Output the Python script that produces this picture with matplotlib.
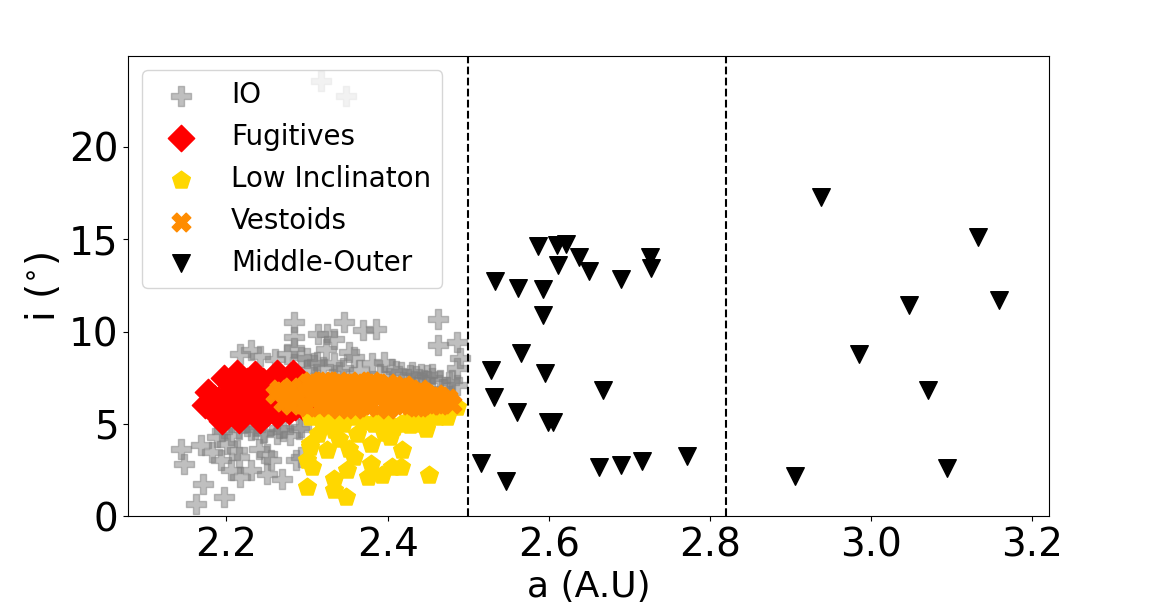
import matplotlib
matplotlib.use('Agg')
import matplotlib.pyplot as plt

# IO family (grey plus markers)
io_a = [2.284, 2.284, 2.314, 2.284, 2.217, 2.230, 2.242, 2.275, 2.292, 2.308,
        2.143, 2.147, 2.168, 2.171, 2.162, 2.197, 2.182, 2.193, 2.205, 2.215,
        2.217, 2.230, 2.240, 2.250, 2.255, 2.250, 2.269, 2.286, 2.213, 2.188,
        2.205, 2.230, 2.246, 2.263, 2.279, 2.290, 2.201, 2.346, 2.370, 2.385,
        2.325, 2.333, 2.323, 2.352, 2.358, 2.381, 2.395, 2.463, 2.462, 2.486,
        2.490, 2.486, 2.416, 2.428, 2.441, 2.449, 2.465, 2.476, 2.486, 2.300,
        2.312, 2.333, 2.292, 2.292, 2.317, 2.348, 2.405, 2.430, 2.455, 2.470,
        2.260, 2.225, 2.300, 2.320, 2.345, 2.340, 2.365, 2.390, 2.410, 2.435,
        2.455, 2.480, 2.445, 2.215, 2.245, 2.270, 2.195, 2.235, 2.265]
io_i = [10.52, 9.71, 9.85, 9.10, 8.80, 9.00, 8.70, 8.80, 8.60, 8.30,
        3.66, 2.85, 3.84, 1.77, 0.69, 1.05, 3.48, 3.03, 2.49, 3.21,
        2.13, 2.49, 3.66, 3.39, 3.03, 2.31, 2.04, 3.03, 3.57, 4.29,
        4.39, 4.66, 4.56, 4.48, 4.39, 4.75, 3.93, 10.52, 10.07, 10.16,
        9.89, 9.62, 9.08, 8.90, 8.62, 8.27, 8.35, 10.70, 9.26, 9.44,
        8.54, 8.00, 7.81, 7.63, 7.72, 7.63, 7.36, 7.27, 7.09, 8.54,
        8.35, 8.27, 4.84, 3.21, 23.55, 22.74, 7.95, 7.80, 7.50, 6.90,
        8.50, 4.90, 7.90, 8.10, 8.00, 7.80, 7.90, 7.70, 7.85, 7.60,
        7.70, 7.40, 7.40, 4.70, 4.50, 4.60, 4.60, 4.70, 4.80]

# Fugitives (red diamonds)
fug_a = [2.173, 2.177, 2.213, 2.236, 2.263, 2.283, 2.197, 2.195, 2.215, 2.242,
         2.263, 2.277, 2.180, 2.200, 2.220, 2.250, 2.230, 2.260, 2.280, 2.290,
         2.210, 2.250, 2.270, 2.300, 2.283, 2.190, 2.240, 2.205, 2.225, 2.245,
         2.265, 2.285, 2.185, 2.210, 2.235, 2.255, 2.275, 2.295, 2.225, 2.205]
fug_i = [6.01, 6.73, 7.78, 7.69, 7.78, 7.78, 7.51, 5.14, 5.23, 5.23,
         5.50, 5.69, 5.86, 6.50, 6.20, 6.60, 7.00, 6.20, 6.80, 6.30,
         5.70, 5.60, 7.20, 7.00, 7.60, 6.30, 6.00, 7.10, 7.30, 7.30,
         7.40, 5.90, 6.40, 5.50, 5.70, 5.90, 6.50, 5.90, 6.70, 6.00]

# Low inclination (gold pentagons)
low_a = [2.304, 2.325, 2.300, 2.300, 2.352, 2.358, 2.350, 2.333, 2.333, 2.348,
         2.379, 2.379, 2.375, 2.393, 2.406, 2.416, 2.418, 2.403, 2.451, 2.447,
         2.428, 2.474, 2.486, 2.314, 2.333, 2.362, 2.383, 2.408, 2.304, 2.333,
         2.358, 2.387, 2.416, 2.437, 2.461, 2.304, 2.306, 2.318, 2.345, 2.370,
         2.398, 2.425, 2.450, 2.395, 2.340]
low_i = [3.75, 3.57, 3.03, 1.59, 3.66, 3.21, 2.49, 2.04, 1.41, 1.05,
         3.93, 2.85, 2.13, 2.22, 2.67, 2.67, 3.57, 4.29, 2.22, 4.75,
         4.93, 5.38, 5.92, 4.48, 4.66, 4.48, 5.02, 4.84, 5.38, 5.38,
         5.38, 5.20, 5.00, 5.00, 5.38, 3.93, 2.67, 5.10, 5.00, 5.10,
         5.10, 5.20, 5.20, 4.50, 4.20]

# Vestoids (dark orange crosses)
ves_a = [2.26, 2.27, 2.28, 2.28, 2.29, 2.30, 2.30, 2.31, 2.32, 2.32,
         2.33, 2.34, 2.34, 2.35, 2.36, 2.36, 2.37, 2.38, 2.38, 2.39,
         2.40, 2.40, 2.41, 2.42, 2.42, 2.43, 2.44, 2.44, 2.45, 2.46,
         2.46, 2.47, 2.48, 2.31, 2.35, 2.39, 2.43, 2.27, 2.33, 2.37,
         2.265, 2.285, 2.295, 2.305, 2.315, 2.325, 2.335, 2.345, 2.355, 2.365,
         2.375, 2.385, 2.395, 2.405, 2.415, 2.425, 2.435, 2.445, 2.455, 2.465,
         2.275, 2.295, 2.315, 2.335, 2.355, 2.375, 2.395, 2.415, 2.435, 2.455,
         2.305, 2.325, 2.345, 2.365, 2.385, 2.405, 2.425, 2.445, 2.475, 2.465]
ves_i = [6.60, 6.20, 7.00, 6.00, 6.50, 7.20, 5.90, 6.60, 7.30, 6.10,
         6.80, 7.30, 5.80, 6.40, 7.20, 5.80, 6.70, 7.30, 6.00, 6.50,
         7.20, 5.80, 6.80, 7.10, 6.00, 6.50, 6.90, 5.90, 6.40, 6.60,
         6.10, 6.30, 6.10, 6.90, 6.90, 6.90, 6.20, 6.80, 6.30, 6.20,
         6.90, 6.40, 6.90, 6.40, 7.00, 6.50, 7.10, 6.60, 7.00, 6.40,
         7.00, 6.60, 7.00, 6.30, 7.00, 6.70, 6.20, 6.70, 6.20, 6.50,
         6.30, 6.10, 5.90, 6.00, 6.10, 5.90, 6.00, 6.00, 5.90, 6.00,
         7.30, 7.30, 7.20, 7.30, 7.20, 7.00, 6.90, 6.30, 6.40, 6.00]

# Middle-Outer (black triangles)
mo_a = [2.587, 2.610, 2.621, 2.638, 2.611, 2.650, 2.725, 2.727, 2.689, 2.533,
        2.562, 2.593, 2.593, 2.566, 2.528, 2.595, 2.667, 2.532, 2.561, 2.599,
        2.605, 2.516, 2.547, 2.662, 2.690, 2.716, 2.772,
        2.938, 3.133, 3.047, 3.158, 2.985, 3.071, 2.906, 3.094]
mo_i = [14.64, 14.67, 14.73, 14.01, 13.59, 13.28, 14.01, 13.46, 12.86, 12.73,
        12.38, 12.28, 10.92, 8.84, 7.93, 7.76, 6.85, 6.48, 5.67, 5.12,
        5.12, 2.90, 1.90, 2.68, 2.77, 3.01, 3.26,
        17.26, 15.09, 11.46, 11.73, 8.77, 6.82, 2.17, 2.64]

boundaries = [2.5, 2.82]

fig = plt.figure(figsize=(11.65, 6.11), dpi=100)
ax = fig.add_axes([0.11, 0.155, 0.79, 0.753])

ax.scatter(io_a, io_i, marker='P', s=200, color='gray', alpha=0.5, label='IO')
ax.scatter(fug_a, fug_i, marker='D', s=180, color='red', label='Fugitives')
ax.scatter(low_a, low_i, marker='p', s=180, color='gold', label='Low Inclinaton')
ax.scatter(ves_a, ves_i, marker='X', s=180, color='darkorange', label='Vestoids')
ax.scatter(mo_a, mo_i, marker='v', s=160, color='black', label='Middle-Outer')

for b in boundaries:
    ax.axvline(b, color='black', linestyle='--', linewidth=1.5)

ax.set_xlim(2.078, 3.22)
ax.set_ylim(0, 24.9)
ax.set_yticks([0, 5, 10, 15, 20])
ax.tick_params(labelsize=28)
ax.set_xlabel('a (A.U)', fontsize=26)
ax.set_ylabel('i ($^{\\circ}$)', fontsize=28)
ax.legend(loc='upper left', fontsize=20)

fig.savefig('out.png', dpi=100)
